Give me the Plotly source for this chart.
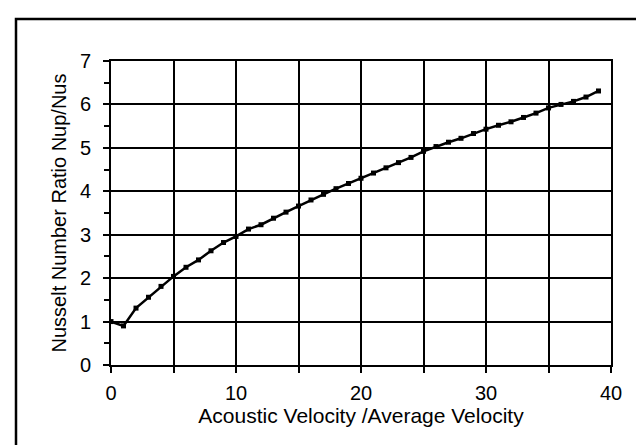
import plotly.graph_objects as go

# Data
velocity_ratio = [0, 1, 2, 3, 4, 5, 6, 7, 8, 9, 10, 11, 12, 13, 14, 15, 16, 17, 18, 19,
                  20, 21, 22, 23, 24, 25, 26, 27, 28, 29, 30, 31, 32, 33, 34, 35, 36, 37, 38, 39]
nusselt_ratio = [1.00, 0.90, 1.31, 1.56, 1.81, 2.04, 2.25, 2.42, 2.63, 2.82, 2.96, 3.13, 3.23,
                 3.38, 3.52, 3.66, 3.80, 3.93, 4.06, 4.18, 4.30, 4.42, 4.54, 4.66, 4.78, 4.92,
                 5.03, 5.13, 5.22, 5.33, 5.43, 5.52, 5.60, 5.70, 5.80, 5.92, 6.00, 6.07, 6.17, 6.31]

x_ticks = [0, 10, 20, 30, 40]
y_ticks = [0, 1, 2, 3, 4, 5, 6, 7]
x_title = "Acoustic Velocity /Average Velocity"
y_title = "Nusselt Number Ratio Nup/Nus"

FONT = "Liberation Sans, Arial, sans-serif"

fig = go.Figure()
fig.add_trace(go.Scatter(
    x=velocity_ratio, y=nusselt_ratio, mode="lines+markers",
    line=dict(color="black", width=2.5),
    marker=dict(symbol="square", size=5, color="black"),
    showlegend=False, hoverinfo="skip",
))

fig.update_layout(
    width=644, height=445,
    margin=dict(l=103, r=41, t=53, b=88),
    paper_bgcolor="white", plot_bgcolor="white",
    font=dict(family=FONT, color="black", size=20),
    xaxis=dict(
        range=[0, 40], tickvals=x_ticks, ticks="outside", ticklen=6, tickwidth=1.5,
        tickcolor="black", showgrid=False, zeroline=False,
        showline=True, linecolor="black", linewidth=2, mirror=True,
        tickfont=dict(size=20), ticklabelstandoff=3,
        minor=dict(dtick=5, tick0=0, ticks="outside", ticklen=6, tickwidth=1.5,
                   tickcolor="black", showgrid=True, gridcolor="black", gridwidth=1.5),
        title=dict(text=x_title, font=dict(size=21), standoff=0),
    ),
    yaxis=dict(
        range=[0, 7], tickvals=y_ticks, ticks="outside", ticklen=6, tickwidth=1.5,
        tickcolor="black", showgrid=True, gridcolor="black", gridwidth=1.5,
        zeroline=False, showline=True, linecolor="black", linewidth=2, mirror=True,
        tickfont=dict(size=20), ticklabelstandoff=8,
        minor=dict(dtick=0.5, tick0=0, ticks="outside", ticklen=5, tickwidth=1.5,
                   tickcolor="black", showgrid=False),
        title=dict(text=y_title, font=dict(size=20), standoff=8),
    ),
)

# Outer frame of the scanned chart area (extends past right and bottom edges)
fig.add_shape(type="rect", xref="paper", yref="paper",
              x0=(8 - 103) / 500, x1=(650 - 103) / 500,
              y0=(357 - 455) / 304, y1=(357 - 11) / 304,
              line=dict(color="black", width=2.5), fillcolor="rgba(0,0,0,0)", layer="below")

fig.write_html("out.html")
